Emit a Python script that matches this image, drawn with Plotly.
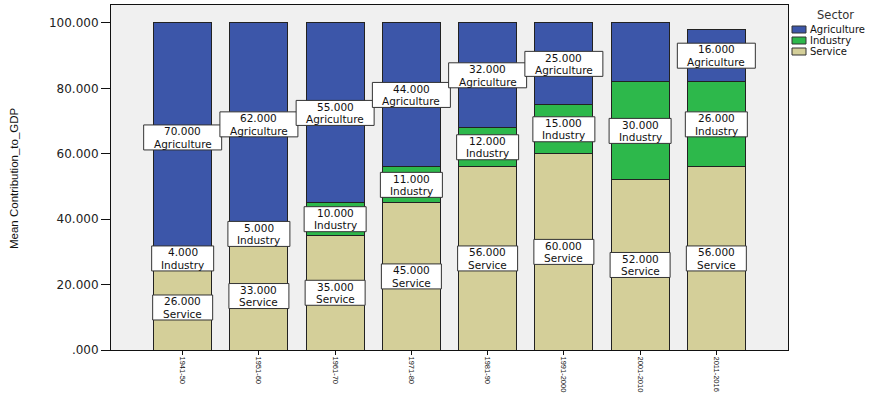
import plotly.graph_objects as go

periods = ["1941-50", "1951-60", "1961-70", "1971-80", "1981-90", "1991-2000", "2001-2010", "2011-2016"]
service = [26, 33, 35, 45, 56, 60, 52, 56]
industry = [4, 5, 10, 11, 12, 15, 30, 26]
agriculture = [70, 62, 55, 44, 32, 25, 18, 16]
show_agri_label = [True, True, True, True, True, True, False, True]
sectors = ["Agriculture", "Industry", "Service"]
y_ticks = [0, 20, 40, 60, 80, 100]
y_tick_text = [".000", "20.000", "40.000", "60.000", "80.000", "100.000"]

colors = {"Agriculture": "#3C56A9", "Industry": "#2DB84B", "Service": "#D4CF99"}
box_w = {"Agriculture": 78, "Industry": 62, "Service": 60}

W, H = 889, 394
ML, MR, MT, MB = 111, 101, 5, 44
PW, PH = W - ML - MR, H - MT - MB


def px_x(px):
    return (px - ML) / PW


def px_y(py):
    return (H - MB - py) / PH


LABEL_FONT = dict(family="DejaVu Sans", size=10.5, color="#111111")
LINE_SEP = 6.2
BOX_HALF_H = 12.5

fig = go.Figure()
for name, vals in [("Service", service), ("Industry", industry), ("Agriculture", agriculture)]:
    fig.add_trace(go.Bar(
        x=periods, y=vals, name=name,
        marker=dict(color=colors[name], line=dict(color="#222222", width=1)),
        showlegend=False,
    ))

annotations = []
shapes = []
for i, p in enumerate(periods):
    s, ind, a = service[i], industry[i], agriculture[i]
    items = [(s / 2, s, "Service"), (s + ind / 2, ind, "Industry")]
    if show_agri_label[i]:
        items.append((s + ind + a / 2, a, "Agriculture"))
    for ypos, v, lab in items:
        w = box_w[lab]
        shapes.append(dict(
            type="rect", xref="x", yref="y",
            xsizemode="pixel", ysizemode="pixel",
            xanchor=i, yanchor=ypos,
            x0=-w / 2, x1=w / 2, y0=-BOX_HALF_H, y1=BOX_HALF_H,
            fillcolor="white", line=dict(color="#333333", width=1),
            layer="above",
        ))
        annotations.append(dict(
            x=p, y=ypos, xref="x", yref="y", yshift=LINE_SEP,
            text=f"{v:.3f}", showarrow=False, font=LABEL_FONT,
            yanchor="middle", borderpad=0,
        ))
        annotations.append(dict(
            x=p, y=ypos, xref="x", yref="y", yshift=-LINE_SEP,
            text=lab, showarrow=False, font=LABEL_FONT,
            yanchor="middle", borderpad=0,
        ))

# legend (drawn manually to match the compact layout)
LEG_FONT = dict(family="DejaVu Sans", size=10, color="#111111")
annotations.append(dict(
    x=px_x(835), y=px_y(15), xref="paper", yref="paper",
    text="Sector", showarrow=False,
    font=dict(family="DejaVu Sans", size=11.5, color="#333333"),
    xanchor="center", yanchor="middle", borderpad=0,
))
for k, name in enumerate(sectors):
    top = 26 + 11 * k
    shapes.append(dict(
        type="rect", xref="paper", yref="paper",
        x0=px_x(792), x1=px_x(806), y0=px_y(top + 7), y1=px_y(top),
        fillcolor=colors[name], line=dict(color="#333333", width=1),
    ))
    annotations.append(dict(
        x=px_x(809), y=px_y(top + 3.5), xref="paper", yref="paper",
        text=name, showarrow=False, font=LEG_FONT,
        xanchor="left", yanchor="middle", borderpad=0,
    ))

# y-axis title
annotations.append(dict(
    x=px_x(14), y=px_y(178), xref="paper", yref="paper",
    text="Mean Contribution_to_GDP", showarrow=False, textangle=-90,
    font=dict(family="Liberation Sans, Arial", size=11.5, color="#111111"),
    xanchor="center", yanchor="middle",
))

fig.update_layout(
    barmode="stack",
    bargap=0.24,
    width=W, height=H,
    margin=dict(l=ML, r=MR, t=MT, b=MB, autoexpand=False),
    paper_bgcolor="white",
    plot_bgcolor="#F0F0F0",
    annotations=annotations,
    shapes=shapes,
    showlegend=False,
    xaxis=dict(
        range=[-0.94, 7.94],
        tickangle=90,
        tickfont=dict(family="Liberation Sans, Arial", size=7.5, color="#111111"),
        ticks="outside", ticklen=4, tickcolor="#111111",
        showline=True, linecolor="#111111", linewidth=1, mirror=True,
        showgrid=False, automargin=False,
    ),
    yaxis=dict(
        range=[0, 105.5],
        tickvals=y_ticks, ticktext=y_tick_text,
        tickfont=dict(family="DejaVu Sans", size=12, color="#222222"),
        ticks="outside", ticklen=9, tickcolor="#111111",
        showline=True, linecolor="#111111", linewidth=1, mirror=True,
        showgrid=False, zeroline=False, automargin=False,
    ),
)

fig.write_html("out.html")
